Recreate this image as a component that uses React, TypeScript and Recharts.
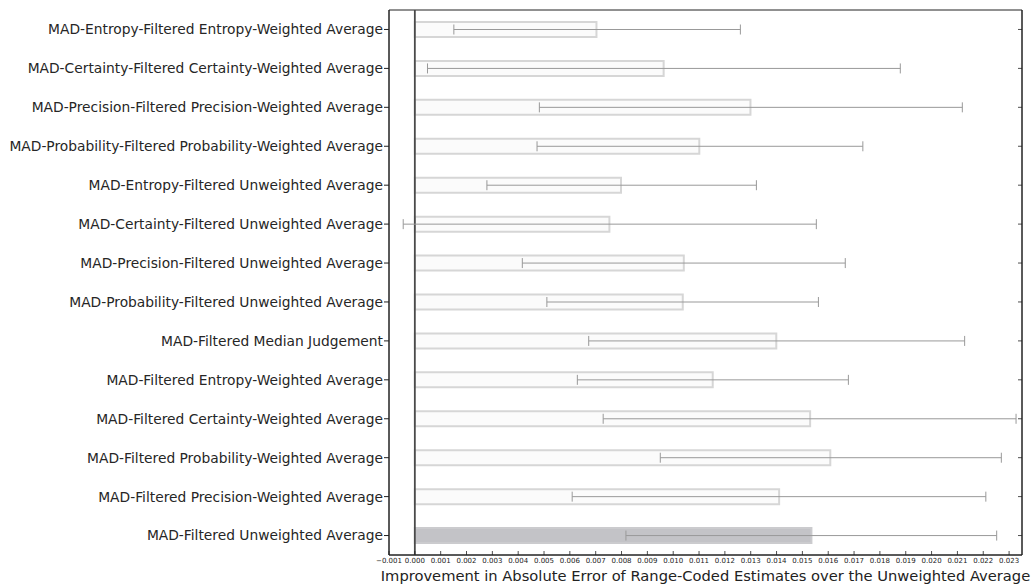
import { BarChart, Bar, XAxis, YAxis, ErrorBar, ReferenceLine, ReferenceArea, Cell, Label } from 'recharts';

const categories = [
  'MAD-Entropy-Filtered Entropy-Weighted Average',
  'MAD-Certainty-Filtered Certainty-Weighted Average',
  'MAD-Precision-Filtered Precision-Weighted Average',
  'MAD-Probability-Filtered Probability-Weighted Average',
  'MAD-Entropy-Filtered Unweighted Average',
  'MAD-Certainty-Filtered Unweighted Average',
  'MAD-Precision-Filtered Unweighted Average',
  'MAD-Probability-Filtered Unweighted Average',
  'MAD-Filtered Median Judgement',
  'MAD-Filtered Entropy-Weighted Average',
  'MAD-Filtered Certainty-Weighted Average',
  'MAD-Filtered Probability-Weighted  Average',
  'MAD-Filtered Precision-Weighted Average',
  'MAD-Filtered Unweighted Average',
];

const improvement = [
  0.00703, 0.00963, 0.01299, 0.01101, 0.00798, 0.00753, 0.01041,
  0.01037, 0.01399, 0.01153, 0.0153, 0.01608, 0.0141, 0.01535,
];

const ciLow = [
  0.00151, 0.00049, 0.00482, 0.00473, 0.00279, -0.00045, 0.00416,
  0.00511, 0.00673, 0.00629, 0.00729, 0.0095, 0.00609, 0.00817,
];

const ciHigh = [
  0.0126, 0.01879, 0.02119, 0.01734, 0.01322, 0.01554, 0.01666,
  0.01562, 0.02128, 0.01678, 0.02327, 0.0227, 0.0221, 0.02252,
];

const xTicks = [
  -0.001, 0, 0.001, 0.002, 0.003, 0.004, 0.005, 0.006, 0.007, 0.008, 0.009, 0.01,
  0.011, 0.012, 0.013, 0.014, 0.015, 0.016, 0.017, 0.018, 0.019, 0.02, 0.021, 0.022, 0.023,
];

const data = categories.map((name, i) => ({
  name,
  value: improvement[i],
  err: [improvement[i] - ciLow[i], ciHigh[i] - improvement[i]],
}));

const FONT = '"DejaVu Sans", sans-serif';

const fmt = (v: number) => {
  const s = Math.abs(v).toFixed(3);
  return v < -1e-9 ? '\u2212' + s : s;
};

const BottomTick = ({ x, y, payload }: any) => (
  <g>
    <line x1={x} x2={x} y1={y} y2={y - 4} stroke="#222" strokeWidth={0.8} />
    <text x={x} y={y + 8} textAnchor="middle" fontSize={7} fill="#222" fontFamily={FONT}>
      {fmt(payload.value)}
    </text>
  </g>
);

const TopTick = ({ x, y }: any) => (
  <line x1={x} x2={x} y1={y} y2={y + 4} stroke="#222" strokeWidth={0.8} />
);

const RightTick = ({ x, y }: any) => (
  <line x1={x} x2={x - 4} y1={y} y2={y} stroke="#222" strokeWidth={0.8} />
);

export default function App() {
  const last = data.length - 1;
  return (
    <div style={{ position: 'absolute', left: 0, top: 0, background: '#fff' }}>
      <BarChart
        width={1032}
        height={586}
        data={data}
        layout="vertical"
        margin={{ top: 10, right: 0, bottom: 0, left: 0 }}
      >
        <XAxis
          type="number"
          domain={[-0.001, 0.0235]}
          ticks={xTicks}
          allowDataOverflow
          height={31}
          tickSize={0}
          tickMargin={0}
          tickLine={false}
          tick={<BottomTick />}
          axisLine={{ stroke: '#222' }}
          interval={0}
        >
          <Label
            value="Improvement in Absolute Error of Range-Coded Estimates over the Unweighted Average"
            position="insideBottom"
            offset={5}
            style={{ fontSize: 14.7, fill: '#222', fontFamily: FONT }}
          />
        </XAxis>
        <XAxis
          xAxisId="top"
          orientation="top"
          type="number"
          domain={[-0.001, 0.0235]}
          ticks={xTicks}
          allowDataOverflow
          height={0}
          tickSize={0}
          tickMargin={0}
          tickLine={false}
          tick={<TopTick />}
          axisLine={{ stroke: '#222' }}
          interval={0}
        />
        <YAxis
          yAxisId="left"
          type="category"
          dataKey="name"
          width={389}
          tickSize={5}
          tickMargin={1}
          interval={0}
          tickLine={{ stroke: '#222' }}
          axisLine={{ stroke: '#222', strokeWidth: 1 }}
          tick={{ fontSize: 13.8, fill: '#262626', fontFamily: FONT }}
        />
        <YAxis
          yAxisId="right"
          orientation="right"
          type="category"
          dataKey="name"
          width={10}
          tickSize={0}
          tickMargin={0}
          interval={0}
          tickLine={false}
          tick={<RightTick />}
          axisLine={{ stroke: '#222' }}
        />
        <ReferenceArea
          x1={-0.001}
          x2={0.0235}
          yAxisId="left"
          fill="none"
          stroke="#222"
          strokeWidth={1}
          ifOverflow="visible"
        />
        <ReferenceLine x={0} yAxisId="left" stroke="#4a4a4a" strokeWidth={1.8} />
        <Bar
          dataKey="value"
          yAxisId="left"
          barSize={15}
          strokeWidth={2}
          isAnimationActive={false}
        >
          {data.map((d, i) => (
            <Cell
              key={d.name}
              fill={i === last ? '#c3c3c7' : '#fbfbfb'}
              stroke={i === last ? '#cbcbce' : '#d6d6d6'}
            />
          ))}
          <ErrorBar dataKey="err" direction="x" width={5} stroke="#999" strokeWidth={1} />
        </Bar>
      </BarChart>
    </div>
  );
}
